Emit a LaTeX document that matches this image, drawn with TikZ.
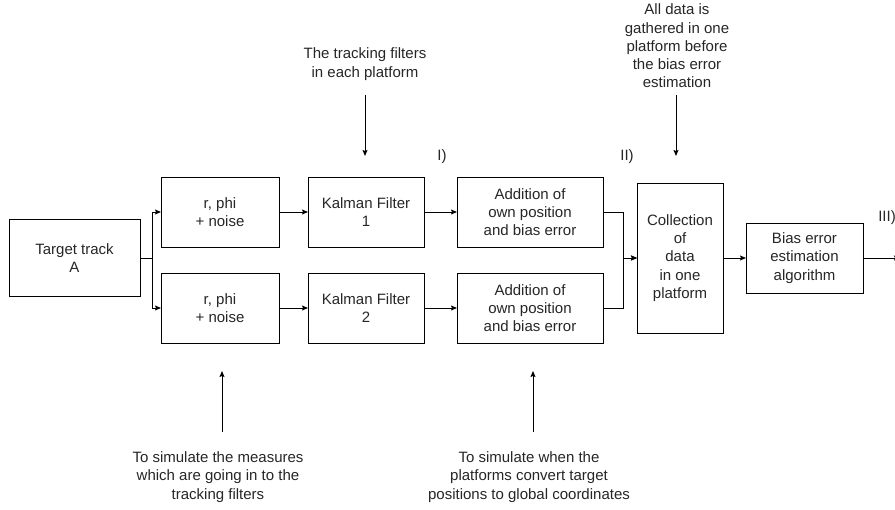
\documentclass[tikz,border=0pt]{standalone}
\usepackage{fontspec}
\setmainfont{Liberation Sans}
\usetikzlibrary{arrows.meta}
\begin{document}
\begin{tikzpicture}[x=1pt,y=-1pt,
  every node/.style={font=\fontsize{15}{18.3}\selectfont, text=black!85},
  box/.style={draw, line width=0.9pt, inner sep=0pt, outer sep=0pt, align=center},
  lbl/.style={align=center, inner sep=0pt},
  arr/.style={line width=0.9pt, -{Stealth[length=6pt,width=5pt,inset=1pt]}},
  ln/.style={line width=0.9pt}]
\useasboundingbox (0,0) rectangle (895,510);
% boxes
\node[box, minimum width=131pt, minimum height=77pt] (tgt) at (74.5,258) {Target track\\A};
\node[box, minimum width=118pt, minimum height=70pt] (r1) at (220,212) {r, phi\\+ noise};
\node[box, minimum width=118pt, minimum height=70pt] (r2) at (220,308) {r, phi\\+ noise};
\node[box, minimum width=116pt, minimum height=70pt] (k1) at (366,212) {Kalman Filter\\1};
\node[box, minimum width=116pt, minimum height=70pt] (k2) at (366,308) {Kalman Filter\\2};
\node[box, minimum width=146pt, minimum height=70pt] (a1) at (530,212) {Addition of\\own position\\and bias error};
\node[box, minimum width=146pt, minimum height=70pt] (a2) at (530,308) {Addition of\\own position\\and bias error};
\node[box, minimum width=86pt, minimum height=150pt] (coll) at (680,258) {Collection\\of\\data\\in one\\platform};
\node[box, minimum width=117pt, minimum height=70pt] (bias) at (804.5,258) {Bias error\\estimation\\algorithm};
% labels
\node[lbl] (l1) at (442,157) {I)};
\node[lbl] (l2) at (627,157) {II)};
\node[lbl] (l3) at (887,218) {III)};
% annotations
\node[lbl] (tf) at (365,64) {The tracking filters\\in each platform};
\node[lbl] (ad) at (677,46) {All data is\\gathered in one\\platform before\\the bias error\\estimation};
\node[lbl] (sm) at (218,477) {To simulate the measures\\which are going in to the\\tracking filters};
\node[lbl] (sw) at (529,477) {To simulate when the\\platforms convert target\\positions to global coordinates};
% coordinates
\coordinate (br) at (152,258);
\coordinate (jn) at (623,258);
\coordinate (outc) at (900,258);
\coordinate (tfa) at (365,95);
\coordinate (tfb) at (365,156);
\coordinate (ada) at (676,95);
\coordinate (adb) at (676,156);
\coordinate (sma) at (222,432);
\coordinate (smb) at (222,371);
\coordinate (swa) at (533,432);
\coordinate (swb) at (533,371);
% connectors
\draw[ln] (tgt.east) -- (br);
\draw[arr] (br) |- (r1.west);
\draw[arr] (br) |- (r2.west);
\draw[arr] (r1) -- (k1);
\draw[arr] (r2) -- (k2);
\draw[arr] (k1) -- (a1);
\draw[arr] (k2) -- (a2);
\draw[arr] (a1.east) -| (jn) -- (coll.west);
\draw[arr] (a2.east) -| (jn) -- (coll.west);
\draw[arr] (coll) -- (bias);
\draw[arr] (bias.east) -- (outc);
\draw[arr] (tfa) -- (tfb);
\draw[arr] (ada) -- (adb);
\draw[arr] (sma) -- (smb);
\draw[arr] (swa) -- (swb);
\end{tikzpicture}
\end{document}
